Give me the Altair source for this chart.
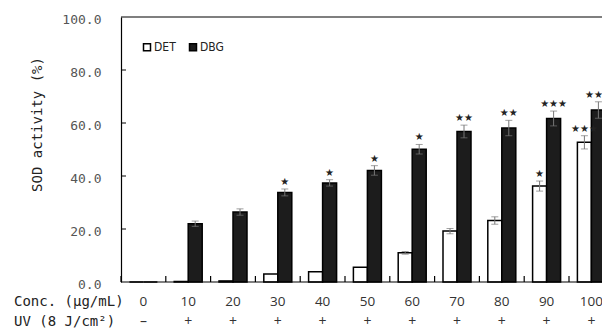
import altair as alt
import pandas as pd

conc = ["0", "10", "20", "30", "40", "50", "60", "70", "80", "90", "100"]
uv = ["–", "+", "+", "+", "+", "+", "+", "+", "+", "+", "+"]
det = [0, 0.2, 0.4, 3.0, 3.9, 5.6, 11.0, 19.2, 23.2, 36.2, 52.7]
det_err = [0, 0, 0, 0, 0, 0, 0.5, 1.0, 1.4, 1.9, 2.5]
dbg = [0, 22.0, 26.4, 33.8, 37.4, 42.1, 50.1, 56.8, 58.1, 61.7, 64.9]
dbg_err = [0, 1.0, 1.2, 1.3, 1.2, 1.8, 1.8, 2.4, 2.9, 2.8, 3.1]
det_sig = ["", "", "", "", "", "", "", "", "", "★", "★★★"]
dbg_sig = ["", "", "", "★", "★", "★", "★", "★★", "★★", "★★★", "★★★"]
series = ["DET", "DBG"]
y_ticks = [0, 20, 40, 60, 80, 100]
inner_ticks = [20, 40, 60, 80]
row_labels = ["Conc. (\u03bcg/mL)", "UV (8 J/cm\u00b2)"]

rows = []
for i, c in enumerate(conc):
    rows.append({"conc": c, "s": "DET", "v": det[i], "e": det_err[i], "sig": det_sig[i]})
    rows.append({"conc": c, "s": "DBG", "v": dbg[i], "e": dbg_err[i], "sig": dbg_sig[i]})
df = pd.DataFrame(rows)
cat_df = pd.DataFrame({"conc": conc, "uv": uv})

W, H = 481, 265
MONO = "DejaVu Sans Mono"

xsc = alt.Scale(domain=conc, range=[0, 492.8], paddingInner=0, paddingOuter=0)
xo = alt.XOffset("s:N", scale=alt.Scale(domain=series, paddingInner=0, paddingOuter=0.6))
ysc = alt.Scale(domain=[0, 100], nice=False)

X = alt.X("conc:N", scale=xsc, sort=conc,
          axis=alt.Axis(labels=False, ticks=False, title=None, domain=False))
Y = alt.Y("v:Q", scale=ysc,
          axis=alt.Axis(values=y_ticks, format=".1f", grid=False, ticks=False,
                        labelPadding=20, labelFont=MONO, labelFontSize=13,
                        labelOffset=2, labelColor="#555", domainColor="black",
                        domainWidth=1.2,
                        title="SOD activity (%)", titleFont=MONO, titleFontSize=14,
                        titleFontWeight="normal", titleColor="#222", titleAngle=-90,
                        titleX=-84, titleY=107, titleAlign="center",
                        titleBaseline="middle"))

base = alt.Chart(df)

bars = base.mark_bar(stroke="black", strokeWidth=1.5).encode(
    x=X, xOffset=xo, y=Y,
    fill=alt.Fill("s:N", scale=alt.Scale(domain=series, range=["white", "#1c1c1c"]),
                  legend=alt.Legend(title=None, orient="none", legendX=20, legendY=24,
                                    direction="horizontal", symbolType="square",
                                    symbolSize=49, symbolStrokeColor="black",
                                    symbolStrokeWidth=1.5, labelFont="DejaVu Sans Condensed",
                                    labelFontSize=12, labelColor="#222", labelOffset=1,
                                    columnPadding=10, padding=0)),
)

eb = base.transform_filter("datum.e > 0").transform_calculate(
    hi="datum.v + datum.e", lo="datum.v - datum.e")

err_rule = eb.mark_rule(color="#777", strokeWidth=1).encode(
    x=alt.X("conc:N", scale=xsc, sort=conc), xOffset=xo,
    y=alt.Y("lo:Q", scale=ysc), y2="hi:Q")
cap_hi = eb.mark_tick(color="#777", size=7, thickness=1).encode(
    x=alt.X("conc:N", scale=xsc, sort=conc), xOffset=xo, y=alt.Y("hi:Q", scale=ysc))
cap_lo = eb.mark_tick(color="#777", size=7, thickness=1).encode(
    x=alt.X("conc:N", scale=xsc, sort=conc), xOffset=xo, y=alt.Y("lo:Q", scale=ysc))

stars = base.transform_filter("datum.sig != ''").transform_calculate(
    hi="datum.v + datum.e").mark_text(
    font="DejaVu Sans", fontSize=10, baseline="bottom", dy=-2, color="#222").encode(
    x=alt.X("conc:N", scale=xsc, sort=conc), xOffset=xo,
    y=alt.Y("hi:Q", scale=ysc), text="sig:N")

sep = alt.Chart(cat_df).mark_rule(color="black", strokeWidth=1.2).encode(
    x=alt.X("conc:N", scale=xsc, sort=conc, bandPosition=0),
    y=alt.value(H - 6), y2=alt.value(H))

conc_lbl = alt.Chart(cat_df).mark_text(
    font="Open Sans", fontSize=13.5, color="#333", baseline="middle").encode(
    x=alt.X("conc:N", scale=xsc, sort=conc), y=alt.value(285), text="conc:N")
uv_lbl = alt.Chart(cat_df).mark_text(
    font="Open Sans", fontSize=14, color="#333", baseline="middle").encode(
    x=alt.X("conc:N", scale=xsc, sort=conc), y=alt.value(305), text="uv:N")

row_df = pd.DataFrame({"lab": row_labels, "yy": [285, 305]})
row_lbl = alt.Chart(row_df).mark_text(
    font=MONO, fontSize=14, color="#222", align="left", baseline="middle").encode(
    x=alt.value(-107), y=alt.Y("yy:Q", scale=None), text="lab:N")

ytk = alt.Chart(pd.DataFrame({"t": inner_ticks})).mark_rule(color="black").encode(
    x=alt.value(0), x2=alt.value(5), y=alt.Y("t:Q", scale=ysc))
frame = alt.Chart(pd.DataFrame({"t": [100, 0]})).mark_rule(color="black", strokeWidth=1.2).encode(
    x=alt.value(0), x2=alt.value(W + 20), y=alt.Y("t:Q", scale=ysc))

chart = alt.layer(bars, err_rule, cap_hi, cap_lo, stars, sep, conc_lbl, uv_lbl,
                  row_lbl, ytk, frame).properties(
    width=W, height=H,
    autosize=alt.AutoSizeParams(type="none"),
    padding={"left": 113, "top": 9, "right": 0, "bottom": 48},
).configure_view(stroke=None)

chart.save("out.html", embed_options={"renderer": "svg", "actions": False})
